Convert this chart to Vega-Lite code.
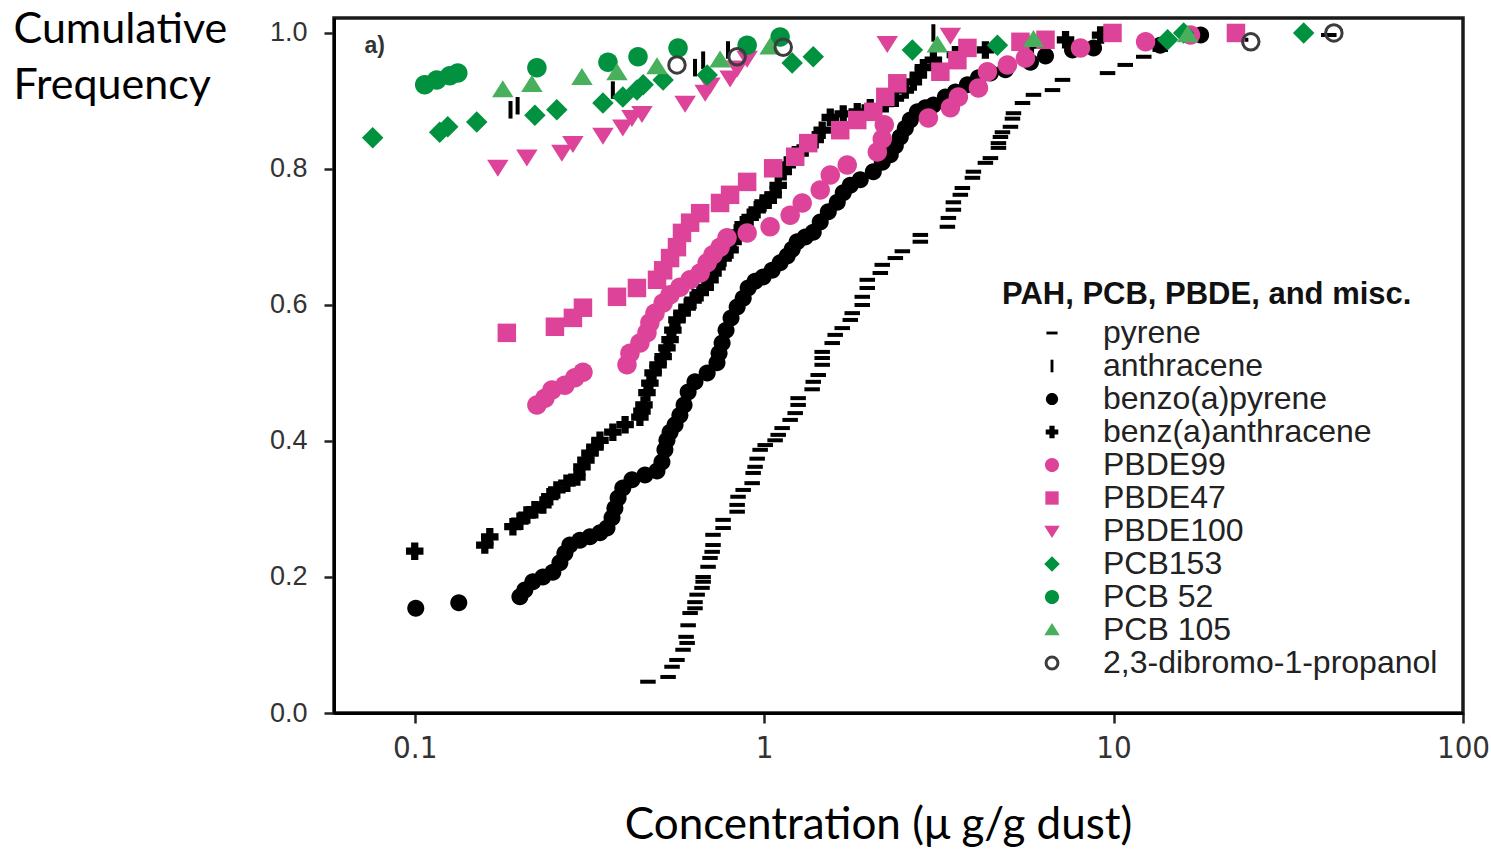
{
  "$schema": "https://vega.github.io/schema/vega-lite/v6.json",
  "width": 1129,
  "height": 695,
  "autosize": {"type": "none"},
  "padding": {"left": 334, "top": 18, "right": 28, "bottom": 137},
  "background": "white",
  "config": {
    "view": {"stroke": "#1a1a1a", "strokeWidth": 3.5},
    "axis": {"grid": false, "domainColor": "#000", "domainWidth": 3, "tickColor": "#222", "tickWidth": 2.5, "labelFlush": false, "labelOverlap": false},
    "legend": {
      "orient": "none", "legendX": 668, "legendY": 262,
      "titleFont": "Liberation Sans", "titleFontSize": 31, "titleFontWeight": "bold", "titleColor": "#111", "titlePadding": 6, "titleLimit": 700,
      "labelFont": "Liberation Sans", "labelFontSize": 32, "labelColor": "#222", "labelLimit": 600,
      "symbolSize": 324, "symbolStrokeWidth": 3, "symbolOffset": 34, "labelOffset": 35, "rowPadding": 1, "padding": 0
    }
  },
  "data": {"values": [
    {"compound":"pyrene","conc":0.465,"freq":0.046},{"compound":"pyrene","conc":0.531,"freq":0.053},{"compound":"pyrene","conc":0.545,"freq":0.068},{"compound":"pyrene","conc":0.563,"freq":0.078},{"compound":"pyrene","conc":0.586,"freq":0.093},{"compound":"pyrene","conc":0.602,"freq":0.103},{"compound":"pyrene","conc":0.598,"freq":0.112},{"compound":"pyrene","conc":0.606,"freq":0.129},{"compound":"pyrene","conc":0.614,"freq":0.147},{"compound":"pyrene","conc":0.634,"freq":0.154},{"compound":"pyrene","conc":0.634,"freq":0.163},{"compound":"pyrene","conc":0.643,"freq":0.174},{"compound":"pyrene","conc":0.664,"freq":0.184},{"compound":"pyrene","conc":0.669,"freq":0.193},{"compound":"pyrene","conc":0.669,"freq":0.2},{"compound":"pyrene","conc":0.691,"freq":0.215},{"compound":"pyrene","conc":0.7,"freq":0.228},{"compound":"pyrene","conc":0.71,"freq":0.237},{"compound":"pyrene","conc":0.714,"freq":0.247},{"compound":"pyrene","conc":0.714,"freq":0.262},{"compound":"pyrene","conc":0.763,"freq":0.272},{"compound":"pyrene","conc":0.763,"freq":0.284},{"compound":"pyrene","conc":0.837,"freq":0.296},{"compound":"pyrene","conc":0.837,"freq":0.306},{"compound":"pyrene","conc":0.842,"freq":0.318},{"compound":"pyrene","conc":0.871,"freq":0.328},{"compound":"pyrene","conc":0.924,"freq":0.338},{"compound":"pyrene","conc":0.93,"freq":0.353},{"compound":"pyrene","conc":0.942,"freq":0.362},{"compound":"pyrene","conc":0.955,"freq":0.374},{"compound":"pyrene","conc":0.974,"freq":0.387},{"compound":"pyrene","conc":1.007,"freq":0.394},{"compound":"pyrene","conc":1.075,"freq":0.401},{"compound":"pyrene","conc":1.097,"freq":0.409},{"compound":"pyrene","conc":1.126,"freq":0.419},{"compound":"pyrene","conc":1.187,"freq":0.431},{"compound":"pyrene","conc":1.227,"freq":0.441},{"compound":"pyrene","conc":1.251,"freq":0.453},{"compound":"pyrene","conc":1.251,"freq":0.463},{"compound":"pyrene","conc":1.372,"freq":0.476},{"compound":"pyrene","conc":1.382,"freq":0.487},{"compound":"pyrene","conc":1.428,"freq":0.497},{"compound":"pyrene","conc":1.466,"freq":0.512},{"compound":"pyrene","conc":1.466,"freq":0.522},{"compound":"pyrene","conc":1.466,"freq":0.531},{"compound":"pyrene","conc":1.566,"freq":0.544},{"compound":"pyrene","conc":1.597,"freq":0.556},{"compound":"pyrene","conc":1.673,"freq":0.566},{"compound":"pyrene","conc":1.764,"freq":0.578},{"compound":"pyrene","conc":1.787,"freq":0.588},{"compound":"pyrene","conc":1.909,"freq":0.6},{"compound":"pyrene","conc":1.909,"freq":0.612},{"compound":"pyrene","conc":1.973,"freq":0.625},{"compound":"pyrene","conc":1.973,"freq":0.637},{"compound":"pyrene","conc":2.15,"freq":0.647},{"compound":"pyrene","conc":2.178,"freq":0.659},{"compound":"pyrene","conc":2.374,"freq":0.669},{"compound":"pyrene","conc":2.486,"freq":0.679},{"compound":"pyrene","conc":2.799,"freq":0.693},{"compound":"pyrene","conc":2.799,"freq":0.703},{"compound":"pyrene","conc":3.345,"freq":0.715},{"compound":"pyrene","conc":3.367,"freq":0.728},{"compound":"pyrene","conc":3.48,"freq":0.74},{"compound":"pyrene","conc":3.48,"freq":0.751},{"compound":"pyrene","conc":3.643,"freq":0.762},{"compound":"pyrene","conc":3.692,"freq":0.772},{"compound":"pyrene","conc":3.945,"freq":0.787},{"compound":"pyrene","conc":3.971,"freq":0.796},{"compound":"pyrene","conc":4.297,"freq":0.809},{"compound":"pyrene","conc":4.442,"freq":0.816},{"compound":"pyrene","conc":4.683,"freq":0.831},{"compound":"pyrene","conc":4.683,"freq":0.838},{"compound":"pyrene","conc":4.745,"freq":0.847},{"compound":"pyrene","conc":4.808,"freq":0.854},{"compound":"pyrene","conc":5.069,"freq":0.862},{"compound":"pyrene","conc":5.136,"freq":0.874},{"compound":"pyrene","conc":5.17,"freq":0.882},{"compound":"pyrene","conc":5.487,"freq":0.897},{"compound":"pyrene","conc":5.899,"freq":0.909},{"compound":"pyrene","conc":6.687,"freq":0.916},{"compound":"pyrene","conc":7.143,"freq":0.931},{"compound":"pyrene","conc":9.61,"freq":0.941},{"compound":"pyrene","conc":10.8,"freq":0.953},{"compound":"pyrene","conc":12.2,"freq":0.965},{"compound":"pyrene","conc":13.6,"freq":0.975},{"compound":"pyrene","conc":23.1,"freq":0.99},{"compound":"pyrene","conc":41.3,"freq":0.997},
    {"compound":"anthracene","conc":0.188,"freq":0.887},{"compound":"anthracene","conc":0.197,"freq":0.893},{"compound":"anthracene","conc":0.369,"freq":0.916},{"compound":"anthracene","conc":0.634,"freq":0.949},{"compound":"anthracene","conc":0.669,"freq":0.96},{"compound":"anthracene","conc":0.788,"freq":0.975},{"compound":"anthracene","conc":3.05,"freq":1.0},
    {"compound":"benzo(a)pyrene","conc":0.1007,"freq":0.154},{"compound":"benzo(a)pyrene","conc":0.1337,"freq":0.162},{"compound":"benzo(a)pyrene","conc":0.2,"freq":0.171},{"compound":"benzo(a)pyrene","conc":0.2066,"freq":0.181},{"compound":"benzo(a)pyrene","conc":0.2178,"freq":0.193},{"compound":"benzo(a)pyrene","conc":0.2327,"freq":0.2},{"compound":"benzo(a)pyrene","conc":0.2485,"freq":0.207},{"compound":"benzo(a)pyrene","conc":0.2603,"freq":0.221},{"compound":"benzo(a)pyrene","conc":0.269,"freq":0.235},{"compound":"benzo(a)pyrene","conc":0.278,"freq":0.247},{"compound":"benzo(a)pyrene","conc":0.297,"freq":0.254},{"compound":"benzo(a)pyrene","conc":0.3173,"freq":0.259},{"compound":"benzo(a)pyrene","conc":0.339,"freq":0.265},{"compound":"benzo(a)pyrene","conc":0.355,"freq":0.272},{"compound":"benzo(a)pyrene","conc":0.367,"freq":0.287},{"compound":"benzo(a)pyrene","conc":0.374,"freq":0.301},{"compound":"benzo(a)pyrene","conc":0.382,"freq":0.316},{"compound":"benzo(a)pyrene","conc":0.394,"freq":0.331},{"compound":"benzo(a)pyrene","conc":0.4185,"freq":0.343},{"compound":"benzo(a)pyrene","conc":0.456,"freq":0.35},{"compound":"benzo(a)pyrene","conc":0.4936,"freq":0.356},{"compound":"benzo(a)pyrene","conc":0.51,"freq":0.369},{"compound":"benzo(a)pyrene","conc":0.52,"freq":0.387},{"compound":"benzo(a)pyrene","conc":0.527,"freq":0.401},{"compound":"benzo(a)pyrene","conc":0.538,"freq":0.413},{"compound":"benzo(a)pyrene","conc":0.556,"freq":0.424},{"compound":"benzo(a)pyrene","conc":0.574,"freq":0.438},{"compound":"benzo(a)pyrene","conc":0.59,"freq":0.453},{"compound":"benzo(a)pyrene","conc":0.606,"freq":0.472},{"compound":"benzo(a)pyrene","conc":0.634,"freq":0.487},{"compound":"benzo(a)pyrene","conc":0.687,"freq":0.5},{"compound":"benzo(a)pyrene","conc":0.733,"freq":0.515},{"compound":"benzo(a)pyrene","conc":0.743,"freq":0.529},{"compound":"benzo(a)pyrene","conc":0.758,"freq":0.544},{"compound":"benzo(a)pyrene","conc":0.778,"freq":0.563},{"compound":"benzo(a)pyrene","conc":0.804,"freq":0.581},{"compound":"benzo(a)pyrene","conc":0.837,"freq":0.597},{"compound":"benzo(a)pyrene","conc":0.871,"freq":0.61},{"compound":"benzo(a)pyrene","conc":0.9,"freq":0.625},{"compound":"benzo(a)pyrene","conc":0.942,"freq":0.635},{"compound":"benzo(a)pyrene","conc":0.993,"freq":0.641},{"compound":"benzo(a)pyrene","conc":1.054,"freq":0.651},{"compound":"benzo(a)pyrene","conc":1.111,"freq":0.662},{"compound":"benzo(a)pyrene","conc":1.164,"freq":0.672},{"compound":"benzo(a)pyrene","conc":1.203,"freq":0.682},{"compound":"benzo(a)pyrene","conc":1.243,"freq":0.693},{"compound":"benzo(a)pyrene","conc":1.311,"freq":0.7},{"compound":"benzo(a)pyrene","conc":1.382,"freq":0.707},{"compound":"benzo(a)pyrene","conc":1.447,"freq":0.722},{"compound":"benzo(a)pyrene","conc":1.526,"freq":0.737},{"compound":"benzo(a)pyrene","conc":1.619,"freq":0.751},{"compound":"benzo(a)pyrene","conc":1.684,"freq":0.765},{"compound":"benzo(a)pyrene","conc":1.764,"freq":0.776},{"compound":"benzo(a)pyrene","conc":1.884,"freq":0.784},{"compound":"benzo(a)pyrene","conc":2.053,"freq":0.796},{"compound":"benzo(a)pyrene","conc":2.178,"freq":0.81},{"compound":"benzo(a)pyrene","conc":2.296,"freq":0.821},{"compound":"benzo(a)pyrene","conc":2.374,"freq":0.834},{"compound":"benzo(a)pyrene","conc":2.453,"freq":0.847},{"compound":"benzo(a)pyrene","conc":2.535,"freq":0.86},{"compound":"benzo(a)pyrene","conc":2.62,"freq":0.872},{"compound":"benzo(a)pyrene","conc":2.745,"freq":0.884},{"compound":"benzo(a)pyrene","conc":2.893,"freq":0.89},{"compound":"benzo(a)pyrene","conc":3.05,"freq":0.894},{"compound":"benzo(a)pyrene","conc":3.301,"freq":0.906},{"compound":"benzo(a)pyrene","conc":3.526,"freq":0.913},{"compound":"benzo(a)pyrene","conc":3.817,"freq":0.924},{"compound":"benzo(a)pyrene","conc":4.105,"freq":0.934},{"compound":"benzo(a)pyrene","conc":4.442,"freq":0.941},{"compound":"benzo(a)pyrene","conc":4.903,"freq":0.946},{"compound":"benzo(a)pyrene","conc":5.783,"freq":0.957},{"compound":"benzo(a)pyrene","conc":6.386,"freq":0.966},{"compound":"benzo(a)pyrene","conc":7.629,"freq":0.975},{"compound":"benzo(a)pyrene","conc":8.764,"freq":0.978},{"compound":"benzo(a)pyrene","conc":13.6,"freq":0.982},{"compound":"benzo(a)pyrene","conc":17.75,"freq":0.997},
    {"compound":"benz(a)anthracene","conc":0.1,"freq":0.238},{"compound":"benz(a)anthracene","conc":0.1587,"freq":0.247},{"compound":"benz(a)anthracene","conc":0.164,"freq":0.259},{"compound":"benz(a)anthracene","conc":0.191,"freq":0.274},{"compound":"benz(a)anthracene","conc":0.2,"freq":0.282},{"compound":"benz(a)anthracene","conc":0.2094,"freq":0.291},{"compound":"benz(a)anthracene","conc":0.2207,"freq":0.299},{"compound":"benz(a)anthracene","conc":0.2327,"freq":0.306},{"compound":"benz(a)anthracene","conc":0.2436,"freq":0.318},{"compound":"benz(a)anthracene","conc":0.2551,"freq":0.328},{"compound":"benz(a)anthracene","conc":0.2726,"freq":0.338},{"compound":"benz(a)anthracene","conc":0.2912,"freq":0.347},{"compound":"benz(a)anthracene","conc":0.301,"freq":0.362},{"compound":"benz(a)anthracene","conc":0.309,"freq":0.372},{"compound":"benz(a)anthracene","conc":0.3173,"freq":0.382},{"compound":"benz(a)anthracene","conc":0.328,"freq":0.391},{"compound":"benz(a)anthracene","conc":0.339,"freq":0.401},{"compound":"benz(a)anthracene","conc":0.369,"freq":0.413},{"compound":"benz(a)anthracene","conc":0.4,"freq":0.424},{"compound":"benz(a)anthracene","conc":0.441,"freq":0.435},{"compound":"benz(a)anthracene","conc":0.447,"freq":0.444},{"compound":"benz(a)anthracene","conc":0.453,"freq":0.453},{"compound":"benz(a)anthracene","conc":0.462,"freq":0.471},{"compound":"benz(a)anthracene","conc":0.471,"freq":0.485},{"compound":"benz(a)anthracene","conc":0.481,"freq":0.5},{"compound":"benz(a)anthracene","conc":0.497,"freq":0.512},{"compound":"benz(a)anthracene","conc":0.514,"freq":0.524},{"compound":"benz(a)anthracene","conc":0.527,"freq":0.537},{"compound":"benz(a)anthracene","conc":0.538,"freq":0.549},{"compound":"benz(a)anthracene","conc":0.548,"freq":0.563},{"compound":"benz(a)anthracene","conc":0.563,"freq":0.578},{"compound":"benz(a)anthracene","conc":0.582,"freq":0.588},{"compound":"benz(a)anthracene","conc":0.602,"freq":0.597},{"compound":"benz(a)anthracene","conc":0.626,"freq":0.607},{"compound":"benz(a)anthracene","conc":0.656,"freq":0.618},{"compound":"benz(a)anthracene","conc":0.678,"freq":0.626},{"compound":"benz(a)anthracene","conc":0.7,"freq":0.637},{"compound":"benz(a)anthracene","conc":0.714,"freq":0.647},{"compound":"benz(a)anthracene","conc":0.733,"freq":0.656},{"compound":"benz(a)anthracene","conc":0.763,"freq":0.669},{"compound":"benz(a)anthracene","conc":0.799,"freq":0.681},{"compound":"benz(a)anthracene","conc":0.815,"freq":0.693},{"compound":"benz(a)anthracene","conc":0.837,"freq":0.706},{"compound":"benz(a)anthracene","conc":0.871,"freq":0.718},{"compound":"benz(a)anthracene","conc":0.912,"freq":0.729},{"compound":"benz(a)anthracene","conc":0.955,"freq":0.74},{"compound":"benz(a)anthracene","conc":0.993,"freq":0.75},{"compound":"benz(a)anthracene","conc":1.027,"freq":0.754},{"compound":"benz(a)anthracene","conc":1.061,"freq":0.762},{"compound":"benz(a)anthracene","conc":1.097,"freq":0.776},{"compound":"benz(a)anthracene","conc":1.134,"freq":0.796},{"compound":"benz(a)anthracene","conc":1.164,"freq":0.806},{"compound":"benz(a)anthracene","conc":1.227,"freq":0.821},{"compound":"benz(a)anthracene","conc":1.311,"freq":0.831},{"compound":"benz(a)anthracene","conc":1.4,"freq":0.843},{"compound":"benz(a)anthracene","conc":1.466,"freq":0.857},{"compound":"benz(a)anthracene","conc":1.546,"freq":0.876},{"compound":"benz(a)anthracene","conc":1.684,"freq":0.881},{"compound":"benz(a)anthracene","conc":1.847,"freq":0.884},{"compound":"benz(a)anthracene","conc":2.012,"freq":0.89},{"compound":"benz(a)anthracene","conc":2.222,"freq":0.896},{"compound":"benz(a)anthracene","conc":2.374,"freq":0.904},{"compound":"benz(a)anthracene","conc":2.535,"freq":0.916},{"compound":"benz(a)anthracene","conc":2.673,"freq":0.928},{"compound":"benz(a)anthracene","conc":2.763,"freq":0.938},{"compound":"benz(a)anthracene","conc":2.855,"freq":0.949},{"compound":"benz(a)anthracene","conc":3.05,"freq":0.96},{"compound":"benz(a)anthracene","conc":3.526,"freq":0.968},{"compound":"benz(a)anthracene","conc":4.297,"freq":0.975},{"compound":"benz(a)anthracene","conc":5.783,"freq":0.982},{"compound":"benz(a)anthracene","conc":7.287,"freq":0.99},{"compound":"benz(a)anthracene","conc":9.18,"freq":0.997},
    {"compound":"PBDE99","conc":0.2237,"freq":0.453},{"compound":"PBDE99","conc":0.2358,"freq":0.463},{"compound":"PBDE99","conc":0.247,"freq":0.475},{"compound":"PBDE99","conc":0.269,"freq":0.482},{"compound":"PBDE99","conc":0.2873,"freq":0.493},{"compound":"PBDE99","conc":0.303,"freq":0.501},{"compound":"PBDE99","conc":0.405,"freq":0.512},{"compound":"PBDE99","conc":0.413,"freq":0.529},{"compound":"PBDE99","conc":0.441,"freq":0.544},{"compound":"PBDE99","conc":0.462,"freq":0.559},{"compound":"PBDE99","conc":0.471,"freq":0.574},{"compound":"PBDE99","conc":0.487,"freq":0.588},{"compound":"PBDE99","conc":0.514,"freq":0.603},{"compound":"PBDE99","conc":0.538,"freq":0.615},{"compound":"PBDE99","conc":0.574,"freq":0.626},{"compound":"PBDE99","conc":0.614,"freq":0.637},{"compound":"PBDE99","conc":0.656,"freq":0.647},{"compound":"PBDE99","conc":0.687,"freq":0.662},{"compound":"PBDE99","conc":0.714,"freq":0.674},{"compound":"PBDE99","conc":0.748,"freq":0.685},{"compound":"PBDE99","conc":0.783,"freq":0.699},{"compound":"PBDE99","conc":0.894,"freq":0.706},{"compound":"PBDE99","conc":1.04,"freq":0.715},{"compound":"PBDE99","conc":1.187,"freq":0.732},{"compound":"PBDE99","conc":1.285,"freq":0.75},{"compound":"PBDE99","conc":1.447,"freq":0.769},{"compound":"PBDE99","conc":1.546,"freq":0.791},{"compound":"PBDE99","conc":1.729,"freq":0.806},{"compound":"PBDE99","conc":2.108,"freq":0.825},{"compound":"PBDE99","conc":2.178,"freq":0.844},{"compound":"PBDE99","conc":2.207,"freq":0.865},{"compound":"PBDE99","conc":2.951,"freq":0.875},{"compound":"PBDE99","conc":3.412,"freq":0.89},{"compound":"PBDE99","conc":3.596,"freq":0.906},{"compound":"PBDE99","conc":4.105,"freq":0.919},{"compound":"PBDE99","conc":4.355,"freq":0.943},{"compound":"PBDE99","conc":4.969,"freq":0.953},{"compound":"PBDE99","conc":5.595,"freq":0.963},{"compound":"PBDE99","conc":8.04,"freq":0.978},{"compound":"PBDE99","conc":12.35,"freq":0.987},{"compound":"PBDE99","conc":16.6,"freq":0.997},
    {"compound":"PBDE47","conc":0.1835,"freq":0.559},{"compound":"PBDE47","conc":0.2519,"freq":0.568},{"compound":"PBDE47","conc":0.2836,"freq":0.581},{"compound":"PBDE47","conc":0.303,"freq":0.596},{"compound":"PBDE47","conc":0.3792,"freq":0.612},{"compound":"PBDE47","conc":0.4325,"freq":0.625},{"compound":"PBDE47","conc":0.4936,"freq":0.637},{"compound":"PBDE47","conc":0.514,"freq":0.651},{"compound":"PBDE47","conc":0.538,"freq":0.669},{"compound":"PBDE47","conc":0.563,"freq":0.685},{"compound":"PBDE47","conc":0.582,"freq":0.706},{"compound":"PBDE47","conc":0.614,"freq":0.721},{"compound":"PBDE47","conc":0.656,"freq":0.735},{"compound":"PBDE47","conc":0.748,"freq":0.75},{"compound":"PBDE47","conc":0.799,"freq":0.762},{"compound":"PBDE47","conc":0.894,"freq":0.781},{"compound":"PBDE47","conc":1.061,"freq":0.801},{"compound":"PBDE47","conc":1.227,"freq":0.818},{"compound":"PBDE47","conc":1.337,"freq":0.838},{"compound":"PBDE47","conc":1.651,"freq":0.857},{"compound":"PBDE47","conc":1.847,"freq":0.872},{"compound":"PBDE47","conc":2.053,"freq":0.884},{"compound":"PBDE47","conc":2.222,"freq":0.906},{"compound":"PBDE47","conc":2.405,"freq":0.926},{"compound":"PBDE47","conc":3.194,"freq":0.943},{"compound":"PBDE47","conc":3.573,"freq":0.96},{"compound":"PBDE47","conc":3.817,"freq":0.978},{"compound":"PBDE47","conc":5.414,"freq":0.987},{"compound":"PBDE47","conc":6.386,"freq":0.99},{"compound":"PBDE47","conc":9.93,"freq":1.0},{"compound":"PBDE47","conc":22.4,"freq":1.0},
    {"compound":"PBDE100","conc":0.1729,"freq":0.803},{"compound":"PBDE100","conc":0.2094,"freq":0.818},{"compound":"PBDE100","conc":0.2637,"freq":0.825},{"compound":"PBDE100","conc":0.2836,"freq":0.838},{"compound":"PBDE100","conc":0.3457,"freq":0.85},{"compound":"PBDE100","conc":0.394,"freq":0.862},{"compound":"PBDE100","conc":0.4185,"freq":0.876},{"compound":"PBDE100","conc":0.447,"freq":0.882},{"compound":"PBDE100","conc":0.594,"freq":0.897},{"compound":"PBDE100","conc":0.678,"freq":0.913},{"compound":"PBDE100","conc":0.7,"freq":0.924},{"compound":"PBDE100","conc":0.799,"freq":0.934},{"compound":"PBDE100","conc":0.837,"freq":0.949},{"compound":"PBDE100","conc":0.894,"freq":0.963},{"compound":"PBDE100","conc":2.251,"freq":0.985},{"compound":"PBDE100","conc":3.412,"freq":0.997},
    {"compound":"PCB153","conc":0.0758,"freq":0.846},{"compound":"PCB153","conc":0.1179,"freq":0.854},{"compound":"PCB153","conc":0.1243,"freq":0.862},{"compound":"PCB153","conc":0.1505,"freq":0.869},{"compound":"PCB153","conc":0.2207,"freq":0.879},{"compound":"PCB153","conc":0.2551,"freq":0.887},{"compound":"PCB153","conc":0.3457,"freq":0.897},{"compound":"PCB153","conc":0.394,"freq":0.906},{"compound":"PCB153","conc":0.4325,"freq":0.916},{"compound":"PCB153","conc":0.4507,"freq":0.924},{"compound":"PCB153","conc":0.514,"freq":0.931},{"compound":"PCB153","conc":0.687,"freq":0.938},{"compound":"PCB153","conc":1.203,"freq":0.956},{"compound":"PCB153","conc":1.382,"freq":0.965},{"compound":"PCB153","conc":2.656,"freq":0.975},{"compound":"PCB153","conc":4.652,"freq":0.982},{"compound":"PCB153","conc":14.28,"freq":0.99},{"compound":"PCB153","conc":15.87,"freq":1.0},{"compound":"PCB153","conc":35.0,"freq":1.0},
    {"compound":"PCB 52","conc":0.1068,"freq":0.924},{"compound":"PCB 52","conc":0.1156,"freq":0.931},{"compound":"PCB 52","conc":0.126,"freq":0.937},{"compound":"PCB 52","conc":0.1328,"freq":0.941},{"compound":"PCB 52","conc":0.2237,"freq":0.949},{"compound":"PCB 52","conc":0.3573,"freq":0.957},{"compound":"PCB 52","conc":0.4355,"freq":0.965},{"compound":"PCB 52","conc":0.567,"freq":0.978},{"compound":"PCB 52","conc":0.894,"freq":0.982},{"compound":"PCB 52","conc":1.111,"freq":0.994},
    {"compound":"PCB 105","conc":0.1787,"freq":0.916},{"compound":"PCB 105","conc":0.2164,"freq":0.924},{"compound":"PCB 105","conc":0.301,"freq":0.934},{"compound":"PCB 105","conc":0.3792,"freq":0.941},{"compound":"PCB 105","conc":0.4936,"freq":0.95},{"compound":"PCB 105","conc":0.748,"freq":0.96},{"compound":"PCB 105","conc":1.04,"freq":0.979},{"compound":"PCB 105","conc":3.131,"freq":0.982},{"compound":"PCB 105","conc":5.899,"freq":0.99},{"compound":"PCB 105","conc":16.3,"freq":0.997},
    {"compound":"2,3-dibromo-1-propanol","conc":0.563,"freq":0.953},{"compound":"2,3-dibromo-1-propanol","conc":0.837,"freq":0.965},{"compound":"2,3-dibromo-1-propanol","conc":1.134,"freq":0.979},{"compound":"2,3-dibromo-1-propanol","conc":24.7,"freq":0.987},{"compound":"2,3-dibromo-1-propanol","conc":42.7,"freq":1.0}
  ]},
  "layer": [
    {
      "mark": {"type": "point", "filled": true, "opacity": 1, "size": 625, "strokeWidth": 3},
      "encoding": {
        "x": {"field": "conc", "type": "quantitative",
          "scale": {"type": "log", "domain": [0.05875, 100], "nice": false, "zero": false},
          "axis": {"values": [0.1, 1, 10, 100], "format": "~g", "title": "Concentration (μ g/g dust)",
            "titleFont": "Lato", "titleFontSize": 44, "titleFontWeight": "normal", "titleColor": "#000",
            "titleX": 544, "titleY": 125, "titleAlign": "center", "titleBaseline": "alphabetic",
            "labelFont": "Liberation Sans Narrow, DejaVu Sans Condensed, Liberation Sans", "labelFontSize": 31, "labelColor": "#333", "labelPadding": 10,
            "tickSize": 10}},
        "y": {"field": "freq", "type": "quantitative",
          "scale": {"domain": [0, 1.022], "nice": false, "zero": false},
          "axis": {"values": [0, 0.2, 0.4, 0.6, 0.8, 1], "format": ".1f", "title": ["Cumulative", "Frequency"],
            "titleFont": "Lato", "titleFontSize": 43, "titleFontWeight": "normal", "titleColor": "#000", "titleAngle": 0,
            "titleAlign": "left", "titleBaseline": "alphabetic", "titleX": -321, "titleY": 24, "titleLineHeight": 56,
            "labelFont": "Liberation Sans", "labelFontSize": 27, "labelColor": "#333", "labelPadding": 17, "tickSize": 10}},
        "shape": {"field": "compound", "type": "nominal",
          "scale": {"domain": ["pyrene", "anthracene", "benzo(a)pyrene", "benz(a)anthracene", "PBDE99", "PBDE47", "PBDE100", "PCB153", "PCB 52", "PCB 105", "2,3-dibromo-1-propanol"],
            "range": [
              "M-0.62,-0.16H0.62V0.16H-0.62Z",
              "M-0.16,-0.7H0.16V0.7H-0.16Z",
              "M0.68,0A0.68,0.68,0,1,1,-0.68,0A0.68,0.68,0,1,1,0.68,0Z",
              "M-0.7,-0.29H-0.29V-0.7H0.29V-0.29H0.7V0.29H0.29V0.7H-0.29V0.29H-0.7Z",
              "M0.78,0A0.78,0.78,0,1,1,-0.78,0A0.78,0.78,0,1,1,0.78,0Z",
              "M-0.74,-0.74H0.74V0.74H-0.74Z",
              "M-0.86,-0.58H0.86L0,0.78Z",
              "M0,-0.86L0.86,0L0,0.86L-0.86,0Z",
              "M0.78,0A0.78,0.78,0,1,1,-0.78,0A0.78,0.78,0,1,1,0.78,0Z",
              "M-0.86,0.58H0.86L0,-0.78Z",
              "M0.66,0A0.66,0.66,0,1,1,-0.66,0A0.66,0.66,0,1,1,0.66,0Z"]},
          "legend": {"title": "PAH, PCB, PBDE, and misc."}},
        "fill": {"field": "compound", "type": "nominal",
          "scale": {"domain": ["pyrene", "anthracene", "benzo(a)pyrene", "benz(a)anthracene", "PBDE99", "PBDE47", "PBDE100", "PCB153", "PCB 52", "PCB 105", "2,3-dibromo-1-propanol"],
            "range": ["#000000", "#000000", "#000000", "#000000", "#dd4499", "#dd4499", "#dd4499", "#00923f", "#00923f", "#48b05c", "transparent"]},
          "legend": {"title": "PAH, PCB, PBDE, and misc."}},
        "stroke": {"field": "compound", "type": "nominal",
          "scale": {"domain": ["pyrene", "anthracene", "benzo(a)pyrene", "benz(a)anthracene", "PBDE99", "PBDE47", "PBDE100", "PCB153", "PCB 52", "PCB 105", "2,3-dibromo-1-propanol"],
            "range": ["transparent", "transparent", "transparent", "transparent", "transparent", "transparent", "transparent", "transparent", "transparent", "transparent", "#3c3c3c"]},
          "legend": {"title": "PAH, PCB, PBDE, and misc."}}
      }
    },
    {
      "data": {"values": [{"label": "a)"}]},
      "mark": {"type": "text", "font": "Liberation Sans", "fontSize": 23, "fontWeight": "bold", "color": "#333", "align": "center", "baseline": "middle"},
      "encoding": {
        "x": {"datum": 0.0768, "type": "quantitative"},
        "y": {"datum": 0.981, "type": "quantitative"},
        "text": {"field": "label", "type": "nominal"}
      }
    }
  ]
}
